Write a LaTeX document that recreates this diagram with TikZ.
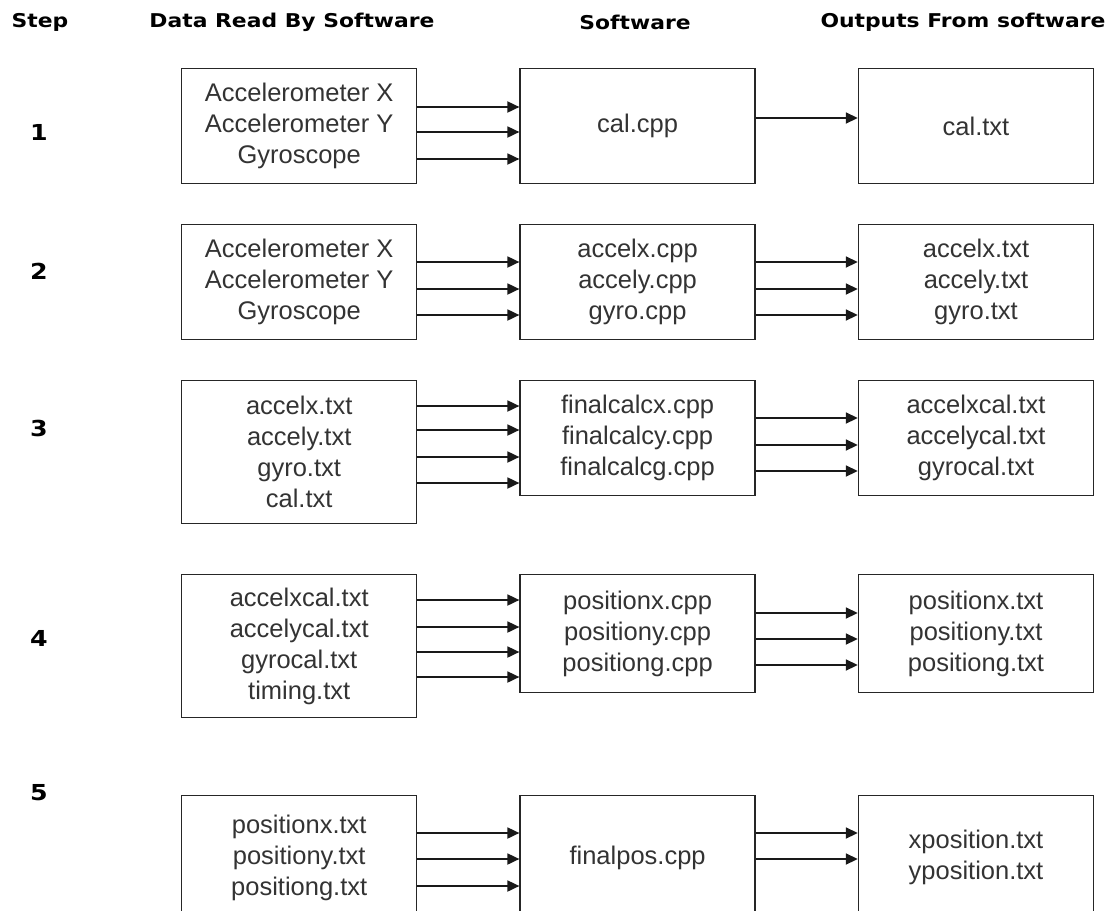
\documentclass[tikz,border=0pt]{standalone}
\usepackage{fontspec}
\setmainfont{Liberation Sans}
\newfontfamily\headfont[FakeStretch=1.15]{DejaVu Sans}
\usetikzlibrary{arrows.meta,positioning}

\begin{document}
\begin{tikzpicture}[x=1pt, y=-1pt, node distance=102pt]
\tikzstyle{block} = [rectangle, draw=black!85, line width=1.4pt, minimum width=235pt, minimum height=115pt, inner sep=0pt, align=center, text=black!80, font=\fontsize{25.5}{31}\selectfont, anchor=north west]
\tikzstyle{tall} = [minimum height=143pt]
\tikzstyle{heading} = [font=\headfont\bfseries\fontsize{19}{22}\selectfont]
\tikzstyle{stepnum} = [font=\headfont\bfseries\fontsize{22}{24}\selectfont]
\tikzstyle{arrow} = [line width=1.8pt, draw=black!90, -{Triangle[length=12pt,width=11pt]}]

\useasboundingbox (0,0) rectangle (1112,911);
\clip (0,0) rectangle (1112,911);

% column headings
\node [heading] (hstep) at (40,22) {Step};
\node [heading] (hdata) at (292,22) {Data Read By Software};
\node [heading] (hsoft) at (635,22) {Software};
\node [heading] (hout) at (963,22) {Outputs From software};

% step numbers
\node [stepnum] (s1) at (39,132) {1};
\node [stepnum] (s2) at (39,271) {2};
\node [stepnum] (s3) at (39,428) {3};
\node [stepnum] (s4) at (39,638) {4};
\node [stepnum] (s5) at (39,793) {5};

% step 1
\node [block] (in1) at (181,68) {Accelerometer X\\Accelerometer Y\\Gyroscope};
\node [block, right=of in1.north east, anchor=north west] (sw1) {cal.cpp};
\node [block, right=of sw1.north east, anchor=north west] (out1) {cal.txt};

% step 2
\node [block] (in2) at (181,224) {Accelerometer X\\Accelerometer Y\\Gyroscope};
\node [block, right=of in2.north east, anchor=north west] (sw2) {accelx.cpp\\accely.cpp\\gyro.cpp};
\node [block, right=of sw2.north east, anchor=north west] (out2) {accelx.txt\\accely.txt\\gyro.txt};

% step 3
\node [block, tall] (in3) at (181,380) {accelx.txt\\accely.txt\\gyro.txt\\cal.txt};
\node [block, right=of in3.north east, anchor=north west] (sw3) {finalcalcx.cpp\\finalcalcy.cpp\\finalcalcg.cpp};
\node [block, right=of sw3.north east, anchor=north west] (out3) {accelxcal.txt\\accelycal.txt\\gyrocal.txt};

% step 4
\node [block, tall] (in4) at (181,574) {accelxcal.txt\\accelycal.txt\\gyrocal.txt\\timing.txt};
\node [block, minimum height=118pt, right=of in4.north east, anchor=north west] (sw4) {positionx.cpp\\positiony.cpp\\positiong.cpp};
\node [block, minimum height=118pt, right=of sw4.north east, anchor=north west] (out4) {positionx.txt\\positiony.txt\\positiong.txt};

% step 5
\node [block, minimum height=124pt] (in5) at (181,795) {positionx.txt\\positiony.txt\\positiong.txt};
\node [block, minimum height=124pt, right=of in5.north east, anchor=north west] (sw5) {finalpos.cpp};
\node [block, minimum height=124pt, right=of sw5.north east, anchor=north west] (out5) {xposition.txt\\yposition.txt};

\draw [arrow] (in1.east |- 0,107) -- (sw1.west |- 0,107);
\draw [arrow] (in1.east |- 0,132) -- (sw1.west |- 0,132);
\draw [arrow] (in1.east |- 0,159) -- (sw1.west |- 0,159);
\draw [arrow] (sw1.east |- 0,118) -- (out1.west |- 0,118);

\draw [arrow] (in2.east |- 0,262) -- (sw2.west |- 0,262);
\draw [arrow] (in2.east |- 0,289) -- (sw2.west |- 0,289);
\draw [arrow] (in2.east |- 0,315) -- (sw2.west |- 0,315);
\draw [arrow] (sw2.east |- 0,262) -- (out2.west |- 0,262);
\draw [arrow] (sw2.east |- 0,289) -- (out2.west |- 0,289);
\draw [arrow] (sw2.east |- 0,315) -- (out2.west |- 0,315);

\draw [arrow] (in3.east |- 0,406) -- (sw3.west |- 0,406);
\draw [arrow] (in3.east |- 0,430) -- (sw3.west |- 0,430);
\draw [arrow] (in3.east |- 0,457) -- (sw3.west |- 0,457);
\draw [arrow] (in3.east |- 0,483) -- (sw3.west |- 0,483);
\draw [arrow] (sw3.east |- 0,418) -- (out3.west |- 0,418);
\draw [arrow] (sw3.east |- 0,445) -- (out3.west |- 0,445);
\draw [arrow] (sw3.east |- 0,471) -- (out3.west |- 0,471);

\draw [arrow] (in4.east |- 0,600) -- (sw4.west |- 0,600);
\draw [arrow] (in4.east |- 0,627) -- (sw4.west |- 0,627);
\draw [arrow] (in4.east |- 0,652) -- (sw4.west |- 0,652);
\draw [arrow] (in4.east |- 0,677) -- (sw4.west |- 0,677);
\draw [arrow] (sw4.east |- 0,613) -- (out4.west |- 0,613);
\draw [arrow] (sw4.east |- 0,639) -- (out4.west |- 0,639);
\draw [arrow] (sw4.east |- 0,665) -- (out4.west |- 0,665);

\draw [arrow] (in5.east |- 0,833) -- (sw5.west |- 0,833);
\draw [arrow] (in5.east |- 0,859) -- (sw5.west |- 0,859);
\draw [arrow] (in5.east |- 0,886) -- (sw5.west |- 0,886);
\draw [arrow] (sw5.east |- 0,833) -- (out5.west |- 0,833);
\draw [arrow] (sw5.east |- 0,859) -- (out5.west |- 0,859);
\end{tikzpicture}
\end{document}
